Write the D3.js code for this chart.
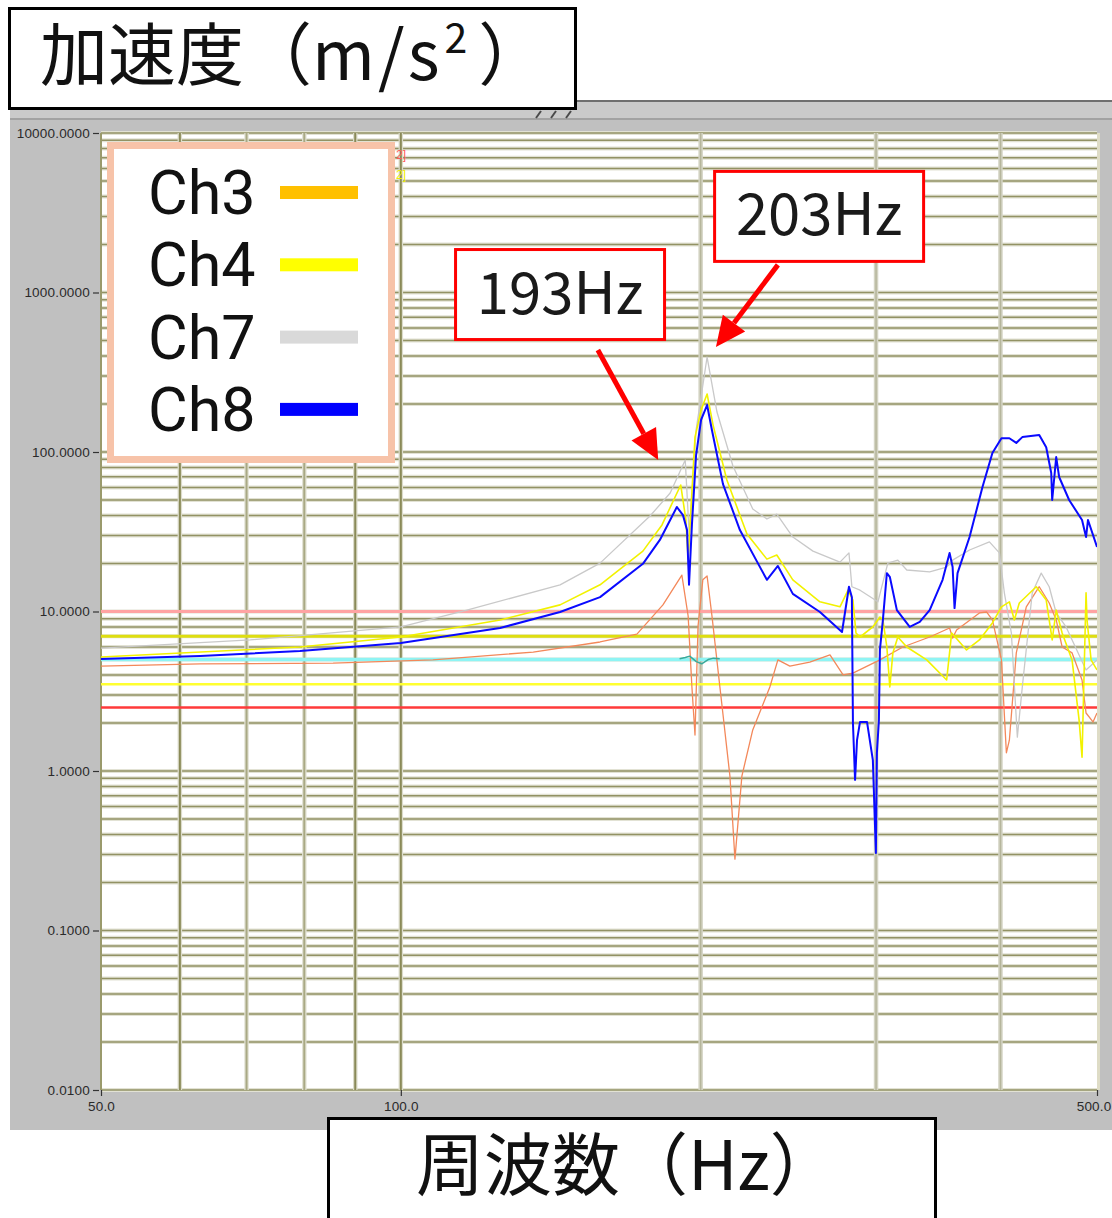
<!DOCTYPE html>
<html>
<head>
<meta charset="utf-8">
<script src="https://cdn.jsdelivr.net/npm/d3@7"></script>
<style>
  body { margin: 0; background: #ffffff; }
  svg { display: block; }
</style>
</head>
<body>
<svg id="chart" width="1112" height="1218"></svg>
<script>
// ---- Spectrum data (frequency in Hz, acceleration in m/s^2) ----
const ch3Freq = [50, 62.9, 85.5, 107.7, 135.8, 158.5, 172.6, 183.3, 191.5, 194.3,
  196, 197.4, 198.8, 201, 203, 205.3, 209.1, 214, 216.5, 220,
  225.6, 234.7, 239.1, 245.8, 257.4, 269.7, 278, 284.4, 302.7, 319.2,
  339.6, 355.6, 358.1, 361.4, 381, 387.3, 392.6, 400.9, 405.5, 408.3,
  414.9, 424.6, 437.5, 447.7, 455, 461.3, 472, 483, 487.5, 495.4, 500];
const ch3Val = [4.55, 4.69, 4.75, 4.97, 5.57, 6.44, 7.22, 11, 16.9, 9.37,
  3.36, 1.68, 8.11, 15.8, 16.7, 9.37, 3.36, 0.93, 0.28, 0.93,
  1.81, 3.36, 4.97, 4.55, 4.82, 5.34, 4.0, 4.11, 4.97, 5.99,
  6.92, 7.88, 6.82, 7.66, 9.79, 9.93, 8.85, 4.97, 1.3, 1.56,
  5.5, 10.7, 14.3, 11.3, 8.85, 5.99, 5.5, 3.72, 2.31, 2.03, 2.31];

const ch4Freq = [50, 79.2, 100, 125.8, 144.5, 158.5, 175, 182.9, 191, 193.3,
  194.3, 197.4, 200.2, 203, 205.8, 212.5, 222.6, 233.1, 238.5, 247.5,
  263.5, 276, 281.2, 284.4, 286.4, 289.1, 297.8, 302.7, 304.8, 307.6,
  309.7, 311.9, 315.5, 322.1, 337.3, 353.2, 357.3, 369.8, 381, 392.6,
  400.9, 408.3, 413, 417.8, 434.5, 444.6, 450.8, 455, 461.3, 472,
  479.7, 483, 487.5, 488.6, 493.2, 500];
const ch4Val = [5.19, 5.99, 6.92, 8.85, 11, 14.7, 23.9, 34.9, 62.1, 37.5,
  21.3, 124, 183, 231, 148, 66.7, 30.6, 21.3, 22.6, 15.8,
  11.5, 10.7, 13.6, 11.8, 7.33, 6.92, 8.0, 9.24, 8.85, 5.99,
  3.36, 5.5, 6.92, 5.99, 4.97, 3.72, 7.33, 5.74, 6.63, 8.48,
  10.7, 11.5, 8.85, 11.3, 14.3, 11.8, 6.63, 10.2, 7.33, 4.97,
  2.09, 1.22, 13.1, 8.85, 4.97, 4.3];

const ch7Freq = [50, 70.6, 100, 116.5, 144.5, 158.5, 177.9, 186.4, 193, 194.8,
  197.9, 203, 207.7, 215.5, 225.6, 233.1, 238.5, 247.5, 259.3, 276,
  281.8, 283.7, 289.1, 301.3, 308.3, 315.5, 322.1, 339.6, 353.2, 358.1,
  372.4, 389.9, 399, 403.6, 410.2, 415.9, 420.7, 430.5, 439.5, 447.7,
  455, 465.5, 487.5, 500];
const ch7Val = [5.9, 6.63, 8.0, 10.2, 14.7, 20.1, 39.7, 55.3, 89, 30,
  137, 394, 178, 81.7, 43.9, 38, 40.8, 29.3, 23.9, 20.4,
  23.3, 14.3, 13.6, 11.5, 20.1, 21, 18.2, 17.7, 19, 21,
  24.3, 27.3, 23.3, 13.1, 7.33, 1.63, 3.36, 13.1, 17.4, 14.3,
  9.79, 8.0, 4.3, 4.97];

const ch8Freq = [50, 62.9, 79.2, 100, 125.8, 144.5, 158.5, 175, 182, 189.3,
  192, 193.8, 194.7, 196, 197.9, 200.2, 203, 205.3, 210.6, 219,
  233.1, 239.1, 247.5, 263.5, 277.3, 281.8, 283.7, 284.4, 285.8, 287.1,
  289.1, 293.8, 297.8, 299.9, 300.6, 302, 302.7, 304.8, 307.6, 309.7,
  314.8, 324.3, 331.9, 339.6, 349.9, 355.6, 358.1, 359.7, 362.2, 372.4,
  383.7, 392.6, 400.9, 408.3, 414.9, 420.7, 437.5, 444.6, 449.8, 450.8,
  455, 458.1, 468.8, 483, 487.5, 489.7, 500];
const ch8Val = [5.04, 5.26, 5.65, 6.35, 7.88, 9.93, 12.3, 19.9, 28.1, 45.2,
  40.2, 32.4, 14.7, 34.9, 95.7, 159, 197, 137, 62.9, 32.4,
  15.8, 19.3, 12.9, 9.93, 7.44, 14.3, 12.3, 2.0, 0.88, 1.56,
  2.03, 2.03, 1.17, 0.306, 1.3, 2.09, 5.74, 8.85, 17.4, 16.5,
  10.2, 8.0, 8.6, 10.2, 15.8, 23.3, 19.0, 10.5, 17.4, 29.3,
  60.3, 98.6, 122, 122, 114, 124, 128, 107, 73.8, 50.0,
  93.0, 69.7, 50.0, 37.5, 29.3, 37.5, 25.4];

// short trace sitting on the 5.0 level around the resonance
const auxFreq = [190.5, 193, 195, 198, 200.5, 203.5, 206, 209];
const auxVal = [5.05, 5.15, 5.25, 4.85, 4.7, 5.0, 5.1, 5.05];

// alarm levels
const levelValues = [10, 7.0, 5.0, 3.5, 2.5];

// legend
const legendNames = ["Ch3", "Ch4", "Ch7", "Ch8"];

// axes
const yTickValues = [0.01, 0.1, 1, 10, 100, 1000, 10000];
const xTickValues = [50, 100, 500];
const xGridValues = [60, 70, 80, 90, 100, 200, 300, 400];

// peak call-outs: box centre, arrow tail and arrow tip in data units
const calloutText = ["193Hz", "203Hz"];
const calloutBox = [[144.5, 971], [263, 3000]];
const calloutTail = [[157.7, 436], [239.1, 1490]];
const calloutTip = [[181.3, 89], [207.2, 455]];

// ---- styles ----
const legendColors = ["#ffc000", "#ffff00", "#d9d9d9", "#0000ff"];
const levelStyle = [
  { c: "#ffa3a3", w: 3 }, { c: "#dede10", w: 3 }, { c: "#8ef4f4", w: 3.5 },
  { c: "#ffff30", w: 2.5 }, { c: "#ff3a3a", w: 2.5 }
];

const svg = d3.select("#chart");
const W = 1112, H = 1218;
const plot = { left: 101, right: 1097, top: 133, bottom: 1090 };

const x = d3.scaleLog().domain([50, 500]).range([plot.left, plot.right]);
const y = d3.scaleLog().domain([0.01, 10000]).range([plot.bottom, plot.top]);

// ---- window frame around the plot ----
svg.append("rect").attr("x", 10).attr("y", 100).attr("width", W - 10).attr("height", 1030)
  .attr("fill", "#c0c0c0");
svg.append("rect").attr("x", 10).attr("y", 100).attr("width", W - 10).attr("height", 2)
  .attr("fill", "#6f6f6f");
svg.append("rect").attr("x", 10).attr("y", 102).attr("width", W - 10).attr("height", 16)
  .attr("fill", "#cacaca");
svg.append("rect").attr("x", 10).attr("y", 118).attr("width", W - 10).attr("height", 2)
  .attr("fill", "#a2a2a2");

// plot area
svg.append("rect").attr("x", plot.left).attr("y", plot.top)
  .attr("width", plot.right - plot.left).attr("height", plot.bottom - plot.top)
  .attr("fill", "#ffffff");
svg.append("line").attr("x1", plot.right + 1.5).attr("x2", plot.right + 1.5)
  .attr("y1", plot.top).attr("y2", plot.bottom).attr("stroke", "#dedcc6").attr("stroke-width", 3);

// ---- grid ----
const yGridValues = [];
for (let k = -2; k <= 3; k++) {
  for (let m = 1; m <= 9; m++) yGridValues.push(m * Math.pow(10, k));
}
yGridValues.push(10000);

const grid = svg.append("g");
grid.selectAll("line.hhalo").data(yGridValues).join("line")
  .attr("x1", plot.left).attr("x2", plot.right)
  .attr("y1", d => y(d)).attr("y2", d => y(d))
  .attr("stroke", "#e2e2d4").attr("stroke-width", 4);
grid.selectAll("line.h").data(yGridValues).join("line")
  .attr("x1", plot.left).attr("x2", plot.right)
  .attr("y1", d => y(d)).attr("y2", d => y(d))
  .attr("stroke", "#929264").attr("stroke-width", 1.5);

const vStyle = d => (d === 60 || d === 90 || d === 100) ? { c: "#8a8a58", w: 2, h: "#dcdccb" }
  : (d === 70 || d === 80) ? { c: "#a9a984", w: 2, h: "#e2e2d4" }
  : { c: "#b6b69c", w: 1.5, h: "#d4d4c4" };
grid.selectAll("line.vhalo").data(xGridValues).join("line")
  .attr("x1", d => x(d)).attr("x2", d => x(d))
  .attr("y1", plot.top).attr("y2", plot.bottom)
  .attr("stroke", d => vStyle(d).h).attr("stroke-width", 4.5);
grid.selectAll("line.v").data(xGridValues).join("line")
  .attr("x1", d => x(d)).attr("x2", d => x(d))
  .attr("y1", plot.top).attr("y2", plot.bottom)
  .attr("stroke", d => vStyle(d).c).attr("stroke-width", d => vStyle(d).w);

// plot edges
svg.append("line").attr("x1", plot.left).attr("x2", plot.left)
  .attr("y1", plot.top).attr("y2", plot.bottom).attr("stroke", "#9a9a6c").attr("stroke-width", 2);

// ---- alarm levels ----
svg.append("g").selectAll("line").data(levelValues).join("line")
  .attr("x1", plot.left).attr("x2", plot.right)
  .attr("y1", d => y(d)).attr("y2", d => y(d))
  .attr("stroke", (d, i) => levelStyle[i].c).attr("stroke-width", (d, i) => levelStyle[i].w);

// ---- spectra ----
svg.append("clipPath").attr("id", "plotClip").append("rect")
  .attr("x", plot.left).attr("y", plot.top)
  .attr("width", plot.right - plot.left).attr("height", plot.bottom - plot.top);

const line = d3.line().x(d => x(d[0])).y(d => y(d[1]));
const zip = (f, v) => f.map((d, i) => [d, v[i]]);

const traces = [
  { pts: zip(ch3Freq, ch3Val), c: "#f3885a", w: 1.3 },
  { pts: zip(ch7Freq, ch7Val), c: "#c9c9c9", w: 1.3 },
  { pts: zip(ch4Freq, ch4Val), c: "#f2f200", w: 1.6 },
  { pts: zip(ch8Freq, ch8Val), c: "#0a0aff", w: 2 },
  { pts: zip(auxFreq, auxVal), c: "#3aa99a", w: 1.5 }
];
svg.append("g").attr("clip-path", "url(#plotClip)")
  .selectAll("path").data(traces).join("path")
  .attr("d", d => line(d.pts))
  .attr("fill", "none")
  .attr("stroke", d => d.c).attr("stroke-width", d => d.w)
  .attr("stroke-linejoin", "round");

// ---- axes ----
const tickFont = "'Liberation Sans', Arial, sans-serif";
const yAxis = svg.append("g").attr("transform", `translate(${plot.left - 2},0)`)
  .call(d3.axisLeft(y).tickValues(yTickValues).tickFormat(d3.format(".4f"))
    .tickSize(6).tickPadding(3));
const xAxis = svg.append("g").attr("transform", `translate(0,${plot.bottom})`)
  .call(d3.axisBottom(x).tickValues(xTickValues).tickFormat(d3.format(".1f"))
    .tickSize(6).tickPadding(5));
[yAxis, xAxis].forEach(a => {
  a.select(".domain").remove();
  a.selectAll(".tick line").attr("stroke", "#333333").attr("stroke-width", 1.2);
  a.selectAll(".tick text").attr("fill", "#2a2a2a")
    .style("font-family", tickFont).style("font-size", "13.5px").style("letter-spacing", "0.2px");
});
// keep the last frequency label inside the window edge
xAxis.selectAll(".tick text").filter(d => d === 500)
  .attr("text-anchor", "end").attr("x", W - plot.right - 1);

// fragments of level captions peeking out beside the legend
svg.append("text").attr("x", 396).attr("y", 159).attr("fill", "#ff5a5a")
  .style("font-family", tickFont).style("font-size", "12px").text("2]");
svg.append("text").attr("x", 396).attr("y", 179).attr("fill", "#eeee00")
  .style("font-family", tickFont).style("font-size", "12px").text("2]");

// ---- legend ----
const legend = svg.append("g");
legend.append("rect").attr("x", 110.5).attr("y", 145.5).attr("width", 281).attr("height", 314)
  .attr("fill", "#ffffff").attr("stroke", "#f7c3a9").attr("stroke-width", 7);
const rows = legend.selectAll("g.row").data(legendNames).join("g")
  .attr("transform", (d, i) => `translate(0,${214 + i * 72.3})`);
rows.append("text").attr("x", 148).attr("y", 0)
  .style("font-family", "Roboto, 'Liberation Sans', sans-serif")
  .style("font-size", "61px").attr("fill", "#111111").text(d => d);
rows.append("rect").attr("x", 280).attr("y", -28).attr("width", 78).attr("height", 13)
  .attr("fill", (d, i) => legendColors[i]);

// ---- peak call-outs ----
const callouts = svg.append("g");
calloutText.forEach((t, i) => {
  const bx = x(calloutBox[i][0]), by = y(calloutBox[i][1]);
  const g = callouts.append("g");
  g.append("rect").attr("x", bx - 104.5).attr("y", by - 45).attr("width", 209).attr("height", 90)
    .attr("fill", "#ffffff").attr("stroke", "#ff0000").attr("stroke-width", 3);
  g.append("text").attr("x", bx).attr("y", by + 19).attr("text-anchor", "middle")
    .style("font-family", "'Noto Sans CJK JP', 'Noto Sans', sans-serif")
    .style("font-size", "58px").attr("fill", "#1a1a1a").text(t);

  const tx = x(calloutTip[i][0]), ty = y(calloutTip[i][1]);
  const sx = x(calloutTail[i][0]), sy = y(calloutTail[i][1]);
  const dx = tx - sx, dy = ty - sy, len = Math.hypot(dx, dy);
  const ux = dx / len, uy = dy / len, nx = -uy, ny = ux;
  const headL = 30, headW = 14;
  const cx = tx - ux * headL, cy = ty - uy * headL;
  g.append("line").attr("x1", sx).attr("y1", sy).attr("x2", cx).attr("y2", cy)
    .attr("stroke", "#ff0000").attr("stroke-width", 5);
  g.append("polygon")
    .attr("points", [[tx, ty], [cx + nx * headW, cy + ny * headW], [cx - nx * headW, cy - ny * headW]]
      .map(p => p.join(",")).join(" "))
    .attr("fill", "#ff0000");
});

// ---- axis title boxes ----
const titleFont = "'Noto Sans CJK JP', sans-serif";
svg.append("rect").attr("x", 9.5).attr("y", 8.5).attr("width", 566).attr("height", 100)
  .attr("fill", "#ffffff").attr("stroke", "#000000").attr("stroke-width", 3);
const yTitle = svg.append("text").attr("x", 40).attr("y", 80)
  .style("font-family", titleFont).style("font-size", "68px").attr("fill", "#111111");
yTitle.append("tspan").text("加速度（");
yTitle.append("tspan").style("letter-spacing", "3px").text("m/s");
yTitle.append("tspan").attr("dx", 2).attr("dy", -27).style("font-size", "41px").text("2");
yTitle.append("tspan").attr("dx", 11).attr("dy", 27).text("）");

// window resize grip
const grip = svg.append("g").attr("stroke", "#4a4a4a").attr("stroke-width", 2);
[536, 551, 566].forEach(gx => grip.append("line")
  .attr("x1", gx + 5).attr("y1", 111).attr("x2", gx).attr("y2", 118));

svg.append("rect").attr("x", 328.5).attr("y", 1118.5).attr("width", 607).attr("height", 120)
  .attr("fill", "#ffffff").attr("stroke", "#000000").attr("stroke-width", 3);
svg.append("text").attr("x", 416).attr("y", 1190)
  .style("font-family", titleFont).style("font-size", "68px").attr("fill", "#111111")
  .text("周波数（Hz）");
</script>
</body>
</html>
